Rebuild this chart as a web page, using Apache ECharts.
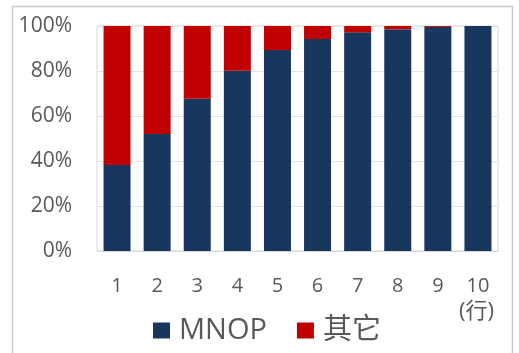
<!DOCTYPE html>
<html>
<head>
<meta charset="utf-8">
<script src="https://cdn.jsdelivr.net/npm/echarts@6/dist/echarts.min.js"></script>
<style>
  html, body { margin: 0; padding: 0; background: #fff; }
  #chart { width: 519px; height: 353px; }
</style>
</head>
<body>
<div id="chart"></div>
<script>
// Row number along the x axis
const categories = ['1', '2', '3', '4', '5', '6', '7', '8', '9', '10'];
// Share (%) held by MNOP in each row
const mnopShare = [38.2, 52, 67.7, 80.1, 89.3, 94.2, 97.2, 98.6, 99.6, 100];
// Share (%) held by everything else
const otherShare = [61.8, 48, 32.3, 19.9, 10.7, 5.8, 2.8, 1.4, 0.4, 0];
const seriesNames = ['MNOP', '其它'];
const yTicks = [0, 20, 40, 60, 80, 100];

const FONT = "'Open Sans', 'Noto Sans CJK TC', sans-serif";
const TEXT = '#595959';

const chart = echarts.init(document.getElementById('chart'), null, { renderer: 'canvas' });
chart.setOption({
  animation: false,
  textStyle: { fontFamily: FONT },
  grid: { left: 97, right: 21, top: 26, bottom: 102, show: true, borderColor: '#d9d9d9', borderWidth: 1 },
  legend: {
    left: 153, top: 316, padding: 0,
    itemWidth: 17, itemHeight: 16, itemGap: 30,
    icon: 'rect',
    textStyle: { fontSize: 29, color: TEXT, fontFamily: FONT, padding: [0, 0, 0, 4] },
    data: seriesNames
  },
  xAxis: {
    type: 'category',
    data: categories,
    axisLine: { show: true, lineStyle: { color: '#d9d9d9' } },
    axisTick: { show: false },
    axisLabel: { color: TEXT, fontSize: 20, margin: 25 }
  },
  yAxis: {
    type: 'value',
    min: yTicks[0], max: yTicks[yTicks.length - 1], interval: 20,
    axisLine: { show: false },
    axisTick: { show: false },
    splitLine: { lineStyle: { color: '#e3e3e3' } },
    axisLabel: { color: TEXT, fontSize: 21, margin: 25, formatter: v => v + '%' }
  },
  graphic: [
    {
      type: 'rect', left: 10, top: 4, silent: true,
      shape: { width: 500, height: 360 },
      style: { fill: 'none', stroke: '#c3cad2', lineWidth: 1.5 }
    },
    {
      type: 'text', left: 459, top: 301, silent: true,
      style: { text: '(行)', fill: TEXT, font: '22px ' + FONT }
    }
  ],
  series: [
    {
      name: seriesNames[0], type: 'bar', stack: 'share', barWidth: 27,
      itemStyle: { color: '#17375e' },
      data: mnopShare
    },
    {
      name: seriesNames[1], type: 'bar', stack: 'share', barWidth: 27,
      itemStyle: { color: '#c00000' },
      data: otherShare
    }
  ]
});
</script>
</body>
</html>
